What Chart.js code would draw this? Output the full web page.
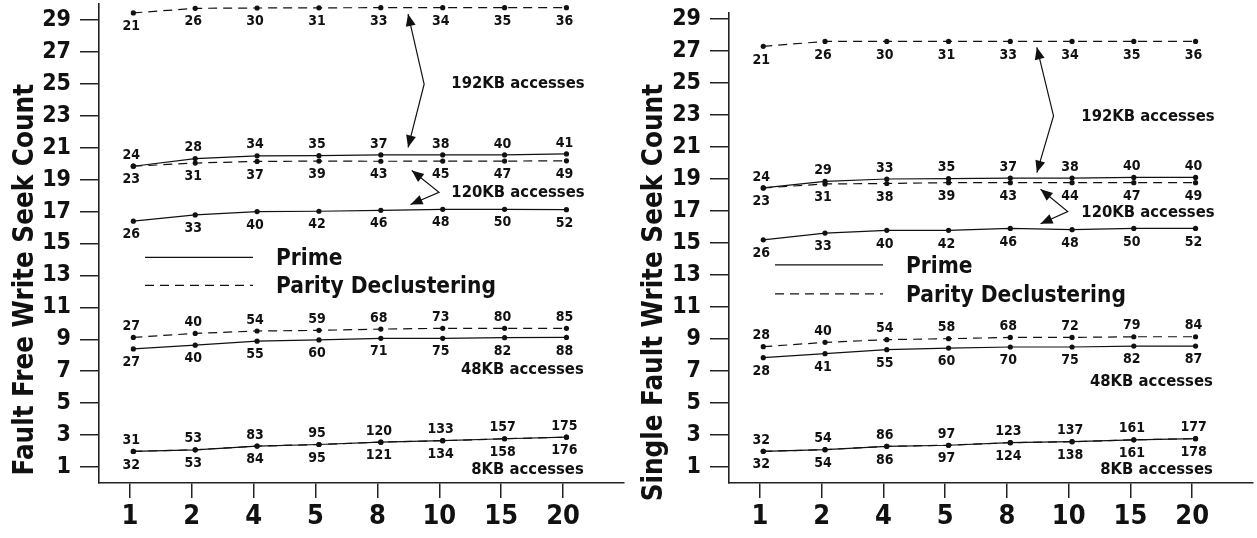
<!DOCTYPE html>
<html>
<head>
<meta charset="utf-8">
<script src="https://cdn.jsdelivr.net/npm/chart.js@4.4.1/dist/chart.umd.min.js"></script>
<style>
  html, body { margin: 0; padding: 0; background: #fff; overflow: hidden; }
  #wrap { position: relative; width: 1257px; height: 538px; }
  canvas { position: absolute; top: 0; }
  #ff { left: 0; }
  #sf { left: 628px; }
</style>
</head>
<body>
<div id="wrap">
  <canvas id="ff" width="628" height="538"></canvas>
  <canvas id="sf" width="629" height="538"></canvas>
</div>
<script>
// x categories (stripe-unit counts) and y tick values
const xCategories = ['1', '2', '4', '5', '8', '10', '15', '20'];
const yTickValues = [1, 3, 5, 7, 9, 11, 13, 15, 17, 19, 21, 23, 25, 27, 29];
const seriesNames = ['Prime', 'Parity Declustering'];

// ---- Fault-free mode: seek counts and per-point throughput labels ----
const ffPrime192 = [19.84, 20.32, 20.49, 20.50, 20.55, 20.55, 20.55, 20.61];
const ffPrime192Lbl = [24, 28, 34, 35, 37, 38, 40, 41];
const ffParity192 = [29.44, 29.73, 29.75, 29.76, 29.77, 29.77, 29.77, 29.77];
const ffParity192Lbl = [21, 26, 30, 31, 33, 34, 35, 36];
const ffPrime120 = [16.40, 16.79, 17.00, 17.02, 17.08, 17.14, 17.14, 17.12];
const ffPrime120Lbl = [26, 33, 40, 42, 46, 48, 50, 52];
const ffParity120 = [19.84, 20.04, 20.14, 20.16, 20.15, 20.16, 20.16, 20.18];
const ffParity120Lbl = [23, 31, 37, 39, 43, 45, 47, 49];
const ffPrime48 = [8.40, 8.63, 8.88, 8.96, 9.06, 9.06, 9.10, 9.12];
const ffPrime48Lbl = [27, 40, 55, 60, 71, 75, 82, 88];
const ffParity48 = [9.12, 9.37, 9.52, 9.56, 9.64, 9.69, 9.69, 9.69];
const ffParity48Lbl = [27, 40, 54, 59, 68, 73, 80, 85];
const ffPrime8 = [1.98, 2.08, 2.31, 2.41, 2.56, 2.65, 2.77, 2.87];
const ffPrime8Lbl = [32, 53, 84, 95, 121, 134, 158, 176];
const ffParity8 = [1.98, 2.08, 2.31, 2.41, 2.56, 2.65, 2.77, 2.87];
const ffParity8Lbl = [31, 53, 83, 95, 120, 133, 157, 175];

// ---- Single-fault mode ----
const sfPrime192 = [18.44, 18.85, 19.00, 19.02, 19.06, 19.06, 19.10, 19.10];
const sfPrime192Lbl = [24, 29, 33, 35, 37, 38, 40, 40];
const sfParity192 = [27.29, 27.60, 27.60, 27.60, 27.60, 27.60, 27.60, 27.60];
const sfParity192Lbl = [21, 26, 30, 31, 33, 34, 35, 36];
const sfPrime120 = [15.20, 15.62, 15.79, 15.79, 15.91, 15.83, 15.91, 15.91];
const sfPrime120Lbl = [26, 33, 40, 42, 46, 48, 50, 52];
const sfParity120 = [18.44, 18.69, 18.72, 18.77, 18.77, 18.77, 18.77, 18.77];
const sfParity120Lbl = [23, 31, 38, 39, 43, 44, 47, 49];
const sfPrime48 = [7.83, 8.08, 8.33, 8.43, 8.50, 8.50, 8.56, 8.56];
const sfPrime48Lbl = [28, 41, 55, 60, 70, 75, 82, 87];
const sfParity48 = [8.52, 8.79, 8.96, 9.02, 9.10, 9.10, 9.14, 9.14];
const sfParity48Lbl = [28, 40, 54, 58, 68, 72, 79, 84];
const sfPrime8 = [1.98, 2.08, 2.29, 2.36, 2.52, 2.58, 2.70, 2.77];
const sfPrime8Lbl = [32, 54, 86, 97, 124, 138, 161, 178];
const sfParity8 = [1.98, 2.08, 2.29, 2.36, 2.52, 2.58, 2.70, 2.77];
const sfParity8Lbl = [32, 54, 86, 97, 123, 137, 161, 177];

const TEXT_FONT = '"DejaVu Sans Condensed", "DejaVu Sans", sans-serif';
const NUM_FONT = '"Liberation Sans Narrow", "DejaVu Sans Condensed", sans-serif';
const INK = '#111';
const DASH = [9, 6];

function series(values, labels, dashed, side) {
  return {
    data: values.map((v, i) => ({ x: i, y: v })),
    pointLabels: labels,
    labelSide: side,
    borderColor: INK,
    borderWidth: 1.2,
    borderDash: dashed ? DASH : [],
    pointRadius: 2.6,
    pointBackgroundColor: INK,
    pointBorderWidth: 0,
    tension: 0,
    fill: false
  };
}

// Draws per-point labels, the in-plot legend, group annotations with arrows
// and the rotated y-axis title.
const decor = {
  id: 'decor',
  afterDatasetsDraw(chart, args, o) {
    const ctx = chart.ctx, xs = chart.scales.x, ys = chart.scales.y, ca = chart.chartArea;
    const px = v => xs.getPixelForValue(v), py = v => ys.getPixelForValue(v);
    ctx.save();
    ctx.fillStyle = INK;
    ctx.strokeStyle = INK;

    // value labels above / below each point
    ctx.font = 'bold 14px ' + NUM_FONT;
    ctx.textAlign = 'center';
    ctx.textBaseline = 'middle';
    chart.data.datasets.forEach((ds, di) => {
      const meta = chart.getDatasetMeta(di);
      const dy = ds.labelSide === 'above' ? -11 : 13.5;
      meta.data.forEach((pt, i) => {
        ctx.fillText(String(ds.pointLabels[i]), pt.x - 2, pt.y + dy);
      });
    });

    // legend
    ctx.font = 'bold 22.5px ' + TEXT_FONT;
    ctx.textAlign = 'left';
    seriesNames.forEach((name, i) => {
      const y = py(o.legendY[i]);
      ctx.beginPath();
      ctx.lineWidth = 1.2;
      ctx.setLineDash(i === 0 ? [] : DASH);
      ctx.moveTo(ca.left + 46, y);
      ctx.lineTo(ca.left + 154, y);
      ctx.stroke();
      ctx.setLineDash([]);
      ctx.fillText(name, ca.left + 177, y + 2);
    });

    // group annotations
    ctx.font = 'bold 16.5px ' + TEXT_FONT;
    o.notes.forEach(n => {
      ctx.textAlign = n.align;
      ctx.fillText(n.text, px(n.x), py(n.y));
    });

    // bent double-headed arrows
    o.arrows.forEach(a => {
      const pts = a.map(p => [px(p[0]), py(p[1])]);
      ctx.lineWidth = 1.2;
      ctx.beginPath();
      ctx.moveTo(pts[0][0], pts[0][1]);
      for (let k = 1; k < pts.length; k++) ctx.lineTo(pts[k][0], pts[k][1]);
      ctx.stroke();
      const head = (tip, from) => {
        const ang = Math.atan2(tip[1] - from[1], tip[0] - from[0]);
        const L = 12, W = 5;
        ctx.beginPath();
        ctx.moveTo(tip[0], tip[1]);
        ctx.lineTo(tip[0] - L * Math.cos(ang) + W * Math.sin(ang), tip[1] - L * Math.sin(ang) - W * Math.cos(ang));
        ctx.lineTo(tip[0] - L * Math.cos(ang) - W * Math.sin(ang), tip[1] - L * Math.sin(ang) + W * Math.cos(ang));
        ctx.closePath();
        ctx.fill();
      };
      head(pts[0], pts[1]);
      head(pts[pts.length - 1], pts[pts.length - 2]);
    });

    // y-axis title
    ctx.font = 'bold 27.5px ' + TEXT_FONT;
    ctx.textAlign = 'right';
    ctx.textBaseline = 'alphabetic';
    ctx.translate(o.title.x, o.title.top);
    ctx.rotate(-Math.PI / 2);
    ctx.fillText(o.title.text, 0, 0);
    ctx.restore();
  }
};

function makeChart(id, datasets, yMax, padTop, padRight, yWidth, extra) {
  return new Chart(document.getElementById(id), {
    type: 'line',
    data: { datasets },
    plugins: [decor],
    options: {
      responsive: false,
      animation: false,
      devicePixelRatio: 1,
      layout: { padding: { top: padTop, right: padRight, left: 0, bottom: 0 } },
      plugins: {
        legend: { display: false },
        tooltip: { enabled: false },
        decor: extra
      },
      scales: {
        x: {
          type: 'linear',
          min: -0.555,
          max: 7.93,
          afterBuildTicks: s => { s.ticks = xCategories.map((c, i) => ({ value: i - 0.055 })); },
          afterFit: s => { s.height = 55; s.paddingLeft = 0; s.paddingRight = 0; },
          ticks: {
            autoSkip: false,
            maxRotation: 0,
            padding: 3,
            color: INK,
            font: { family: NUM_FONT, size: 27, weight: 'bold' },
            callback: (v, i) => xCategories[i]
          },
          grid: { drawOnChartArea: false, drawTicks: true, tickLength: 15, color: '#222', lineWidth: 1.5 },
          border: { display: true, color: '#222', width: 1.6 }
        },
        y: {
          type: 'linear',
          min: 0,
          max: yMax,
          afterBuildTicks: s => { s.ticks = yTickValues.map(v => ({ value: v })); },
          afterFit: s => { s.width = yWidth; s.paddingTop = 0; s.paddingBottom = 0; },
          ticks: {
            autoSkip: false,
            padding: 9,
            color: INK,
            font: { family: NUM_FONT, size: 23, weight: 'bold' },
            callback: v => String(v)
          },
          grid: { drawOnChartArea: false, drawTicks: true, tickLength: 19, color: '#222', lineWidth: 1.5 },
          border: { display: true, color: '#222', width: 1.6 }
        }
      },
      elements: { line: { clip: false } }
    }
  });
}

makeChart('ff', [
  series(ffPrime192, ffPrime192Lbl, false, 'above'),
  series(ffPrime120, ffPrime120Lbl, false, 'below'),
  series(ffPrime48, ffPrime48Lbl, false, 'below'),
  series(ffPrime8, ffPrime8Lbl, false, 'below'),
  series(ffParity192, ffParity192Lbl, true, 'below'),
  series(ffParity120, ffParity120Lbl, true, 'below'),
  series(ffParity48, ffParity48Lbl, true, 'above'),
  series(ffParity8, ffParity8Lbl, true, 'above')
], 30, 3, 1, 99, {
  legendY: [14.13, 12.38],
  title: { text: 'Fault Free Write Seek Count', x: 33, top: 84 },
  notes: [
    { text: '192KB accesses', x: 5.14, y: 24.98, align: 'left' },
    { text: '120KB accesses', x: 5.14, y: 18.21, align: 'left' },
    { text: '48KB accesses', x: 7.28, y: 7.11, align: 'right' },
    { text: '8KB accesses', x: 7.28, y: 0.81, align: 'right' }
  ],
  arrows: [
    [[4.44, 29.37], [4.70, 24.98], [4.44, 21.02]],
    [[4.50, 19.57], [4.94, 18.21], [4.48, 17.44]]
  ]
});

makeChart('sf', [
  series(sfPrime192, sfPrime192Lbl, false, 'above'),
  series(sfPrime120, sfPrime120Lbl, false, 'below'),
  series(sfPrime48, sfPrime48Lbl, false, 'below'),
  series(sfPrime8, sfPrime8Lbl, false, 'below'),
  series(sfParity192, sfParity192Lbl, true, 'below'),
  series(sfParity120, sfParity120Lbl, true, 'below'),
  series(sfParity48, sfParity48Lbl, true, 'above'),
  series(sfParity8, sfParity8Lbl, true, 'above')
], 29.375, 13, 0, 101, {
  legendY: [13.63, 11.82],
  title: { text: 'Single Fault Write Seek Count', x: 34, top: 84 },
  notes: [
    { text: '192KB accesses', x: 5.15, y: 22.89, align: 'left' },
    { text: '120KB accesses', x: 5.15, y: 16.92, align: 'left' },
    { text: '48KB accesses', x: 7.28, y: 6.33, align: 'right' },
    { text: '8KB accesses', x: 7.28, y: 0.81, align: 'right' }
  ],
  arrows: [
    [[4.43, 27.23], [4.70, 22.94], [4.43, 19.40]],
    [[4.49, 18.36], [4.93, 16.96], [4.49, 16.20]]
  ]
});
</script>
</body>
</html>
